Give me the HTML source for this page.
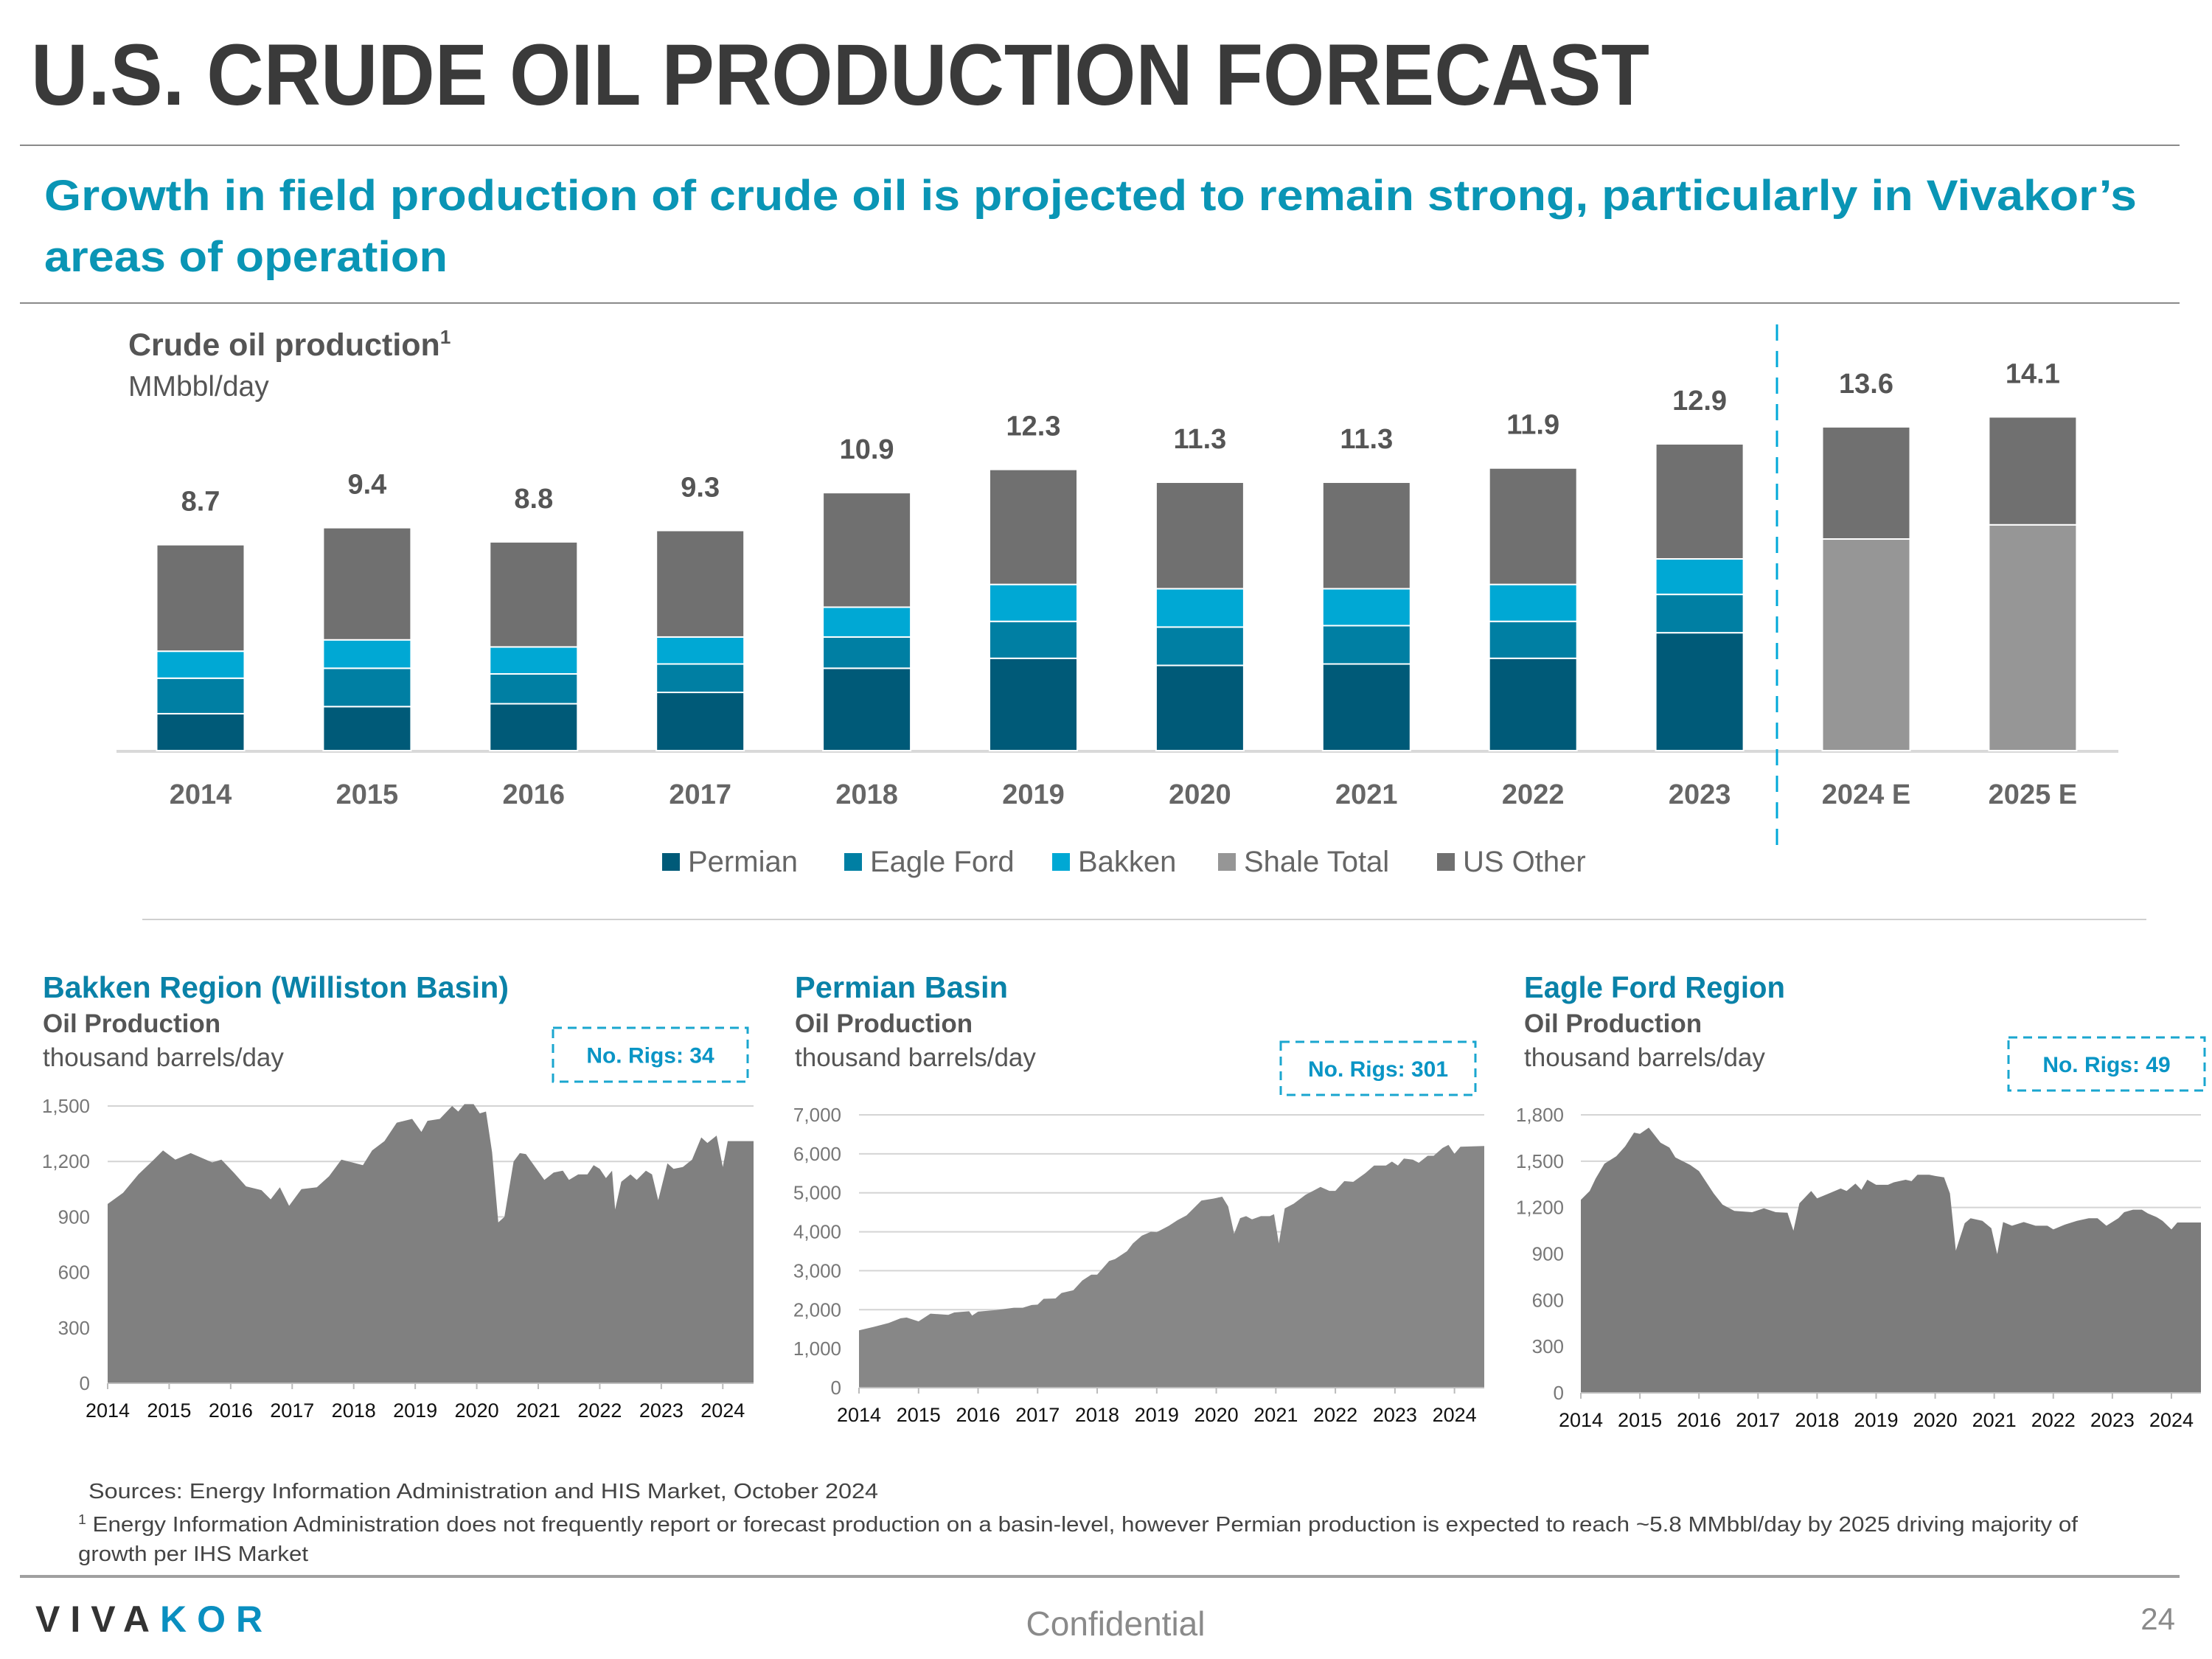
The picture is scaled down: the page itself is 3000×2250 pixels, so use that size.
<!DOCTYPE html>
<html><head><meta charset="utf-8"><style>
html,body{margin:0;padding:0;background:#fff;}
svg{display:block;font-family:"Liberation Sans",sans-serif;}
</style></head><body>
<svg id="s" width="3000" height="2250" viewBox="0 0 3000 2250" xmlns="http://www.w3.org/2000/svg">
<text x="42" y="142" font-size="118" font-weight="bold" fill="#3a3a3a" textLength="2195" lengthAdjust="spacingAndGlyphs">U.S. CRUDE OIL PRODUCTION FORECAST</text>
<line x1="27" y1="197" x2="2956" y2="197" stroke="#8a8a8a" stroke-width="2"/>
<text x="60" y="285" font-size="58" font-weight="bold" fill="#0a95b5" textLength="2838" lengthAdjust="spacingAndGlyphs">Growth in field production of crude oil is projected to remain strong, particularly in Vivakor’s</text>
<text x="60" y="368" font-size="58" font-weight="bold" fill="#0a95b5" textLength="547" lengthAdjust="spacingAndGlyphs">areas of operation</text>
<line x1="27" y1="411" x2="2956" y2="411" stroke="#8a8a8a" stroke-width="2"/>
<text x="174" y="482" font-size="43" font-weight="bold" fill="#555">Crude oil production<tspan font-size="26" dy="-16">1</tspan></text>
<text x="174" y="537" font-size="39" fill="#555">MMbbl/day</text>
<g id="bars"></g>
<line x1="2410" y1="440" x2="2410" y2="1153" stroke="#00a8d8" stroke-width="3" stroke-dasharray="22,14"/>
<g id="legend"></g>
<line x1="193" y1="1247" x2="2911" y2="1247" stroke="#d0d0d0" stroke-width="2"/>
<g id="small"></g>
<text x="120" y="2032" font-size="29" fill="#444" textLength="1071" lengthAdjust="spacingAndGlyphs">Sources: Energy Information Administration and HIS Market, October 2024</text>
<text x="106" y="2077" font-size="29" fill="#444" textLength="2712" lengthAdjust="spacingAndGlyphs"><tspan font-size="18" dy="-10">1</tspan><tspan dy="10"> Energy Information Administration does not frequently report or forecast production on a basin-level, however Permian production is expected to reach ~5.8 MMbbl/day by 2025 driving majority of</tspan></text>
<text x="106" y="2117" font-size="29" fill="#444" textLength="312" lengthAdjust="spacingAndGlyphs">growth per IHS Market</text>
<line x1="27" y1="2138" x2="2956" y2="2138" stroke="#a0a0a0" stroke-width="4"/>
<text x="48" y="2213" font-size="50" font-weight="bold" letter-spacing="14" fill="#333">VIVA<tspan fill="#0a8fc0">KOR</tspan></text>
<text x="1513" y="2218" font-size="46" fill="#8a8a8a" text-anchor="middle">Confidential</text>
<text x="2950" y="2210" font-size="42" fill="#8a8a8a" text-anchor="end">24</text>
</svg>
<script>
// ===== Main bar chart data =====
const barYears = ["2014","2015","2016","2017","2018","2019","2020","2021","2022","2023","2024 E","2025 E"];
const permian   = [1.56,1.86,1.98,2.46,3.48,3.90,3.60,3.66,3.90,4.98,0,0];
const eagleFord = [1.50,1.62,1.26,1.20,1.32,1.56,1.62,1.62,1.56,1.62,0,0];
const bakken    = [1.14,1.20,1.14,1.14,1.26,1.56,1.62,1.56,1.56,1.50,0,0];
const shaleTotal= [0,0,0,0,0,0,0,0,0,0,8.94,9.54];
const usOther   = [4.50,4.74,4.44,4.50,4.84,4.86,4.50,4.50,4.92,4.86,4.74,4.56];
const totalLabels = ["8.7","9.4","8.8","9.3","10.9","12.3","11.3","11.3","11.9","12.9","13.6","14.1"];
const seriesNames = ["Permian","Eagle Ford","Bakken","Shale Total","US Other"];

// ===== Basin chart data (decimal year, thousand bbl/day) =====
const bakkenDates = [2014.0,2014.25,2014.5,2014.75,2014.9,2015.1,2015.35,2015.7,2015.85,2016.05,2016.25,2016.5,2016.65,2016.8,2016.95,2017.15,2017.4,2017.6,2017.8,2018.15,2018.3,2018.5,2018.7,2018.95,2019.1,2019.2,2019.4,2019.6,2019.7,2019.8,2019.95,2020.05,2020.15,2020.25,2020.35,2020.45,2020.6,2020.7,2020.8,2020.95,2021.1,2021.25,2021.4,2021.5,2021.65,2021.8,2021.9,2022.0,2022.1,2022.2,2022.25,2022.35,2022.5,2022.6,2022.75,2022.85,2022.95,2023.1,2023.2,2023.35,2023.5,2023.65,2023.75,2023.9,2024.0,2024.08,2024.5];
const bakkenValues = [970,1030,1130,1210,1260,1210,1245,1195,1210,1140,1065,1045,995,1060,960,1050,1060,1120,1210,1180,1260,1310,1410,1430,1360,1420,1430,1500,1470,1510,1510,1460,1470,1250,870,900,1200,1245,1240,1170,1100,1140,1150,1100,1130,1130,1180,1160,1110,1150,940,1090,1130,1100,1150,1130,990,1190,1160,1170,1210,1330,1300,1340,1170,1310,1310];
const permianDates = [2014.0,2014.25,2014.5,2014.7,2014.8,2015.0,2015.2,2015.5,2015.6,2015.85,2015.9,2016.0,2016.3,2016.6,2016.75,2016.9,2017.0,2017.1,2017.3,2017.4,2017.6,2017.75,2017.9,2018.0,2018.2,2018.3,2018.5,2018.6,2018.75,2018.9,2019.0,2019.2,2019.35,2019.5,2019.75,2019.95,2020.1,2020.2,2020.3,2020.4,2020.5,2020.6,2020.75,2020.9,2020.97,2021.05,2021.15,2021.3,2021.5,2021.75,2021.9,2022.0,2022.15,2022.3,2022.5,2022.65,2022.85,2022.95,2023.05,2023.15,2023.3,2023.4,2023.55,2023.65,2023.8,2023.9,2024.0,2024.1,2024.5];
const permianValues = [1470,1560,1660,1780,1800,1700,1900,1870,1930,1960,1850,1950,1990,2050,2050,2120,2130,2280,2290,2430,2500,2750,2900,2900,3250,3300,3500,3700,3900,4000,3990,4150,4300,4420,4800,4850,4900,4650,3950,4350,4400,4320,4400,4400,4450,3700,4600,4720,4950,5150,5050,5050,5300,5280,5500,5700,5700,5800,5700,5880,5850,5770,5950,5950,6150,6230,6000,6180,6200];
const eagleDates = [2014.0,2014.15,2014.25,2014.4,2014.6,2014.75,2014.9,2015.0,2015.15,2015.35,2015.5,2015.6,2015.85,2016.0,2016.25,2016.4,2016.6,2016.9,2017.1,2017.3,2017.5,2017.6,2017.7,2017.9,2018.0,2018.2,2018.4,2018.5,2018.65,2018.75,2018.85,2019.0,2019.2,2019.3,2019.5,2019.6,2019.7,2019.9,2020.0,2020.15,2020.25,2020.35,2020.5,2020.6,2020.8,2020.95,2021.05,2021.15,2021.3,2021.5,2021.7,2021.9,2022.0,2022.2,2022.4,2022.6,2022.75,2022.9,2023.1,2023.2,2023.35,2023.5,2023.6,2023.75,2023.85,2024.0,2024.1,2024.5];
const eagleValues = [1250,1307,1387,1484,1532,1596,1685,1677,1717,1620,1588,1524,1476,1436,1291,1219,1178,1170,1195,1170,1166,1050,1227,1307,1259,1291,1323,1307,1355,1315,1380,1347,1347,1363,1380,1371,1412,1412,1404,1395,1291,921,1098,1130,1114,1066,897,1106,1082,1106,1082,1082,1058,1090,1114,1130,1130,1082,1130,1170,1186,1186,1162,1138,1114,1058,1103,1103];
const bakkenTicks = [0,300,600,900,1200,1500];
const permianTicks = [0,1000,2000,3000,4000,5000,6000,7000];
const eagleTicks = [0,300,600,900,1200,1500,1800];
const yearTicks = [2014,2015,2016,2017,2018,2019,2020,2021,2022,2023,2024];

const NS = "http://www.w3.org/2000/svg";
function mk(tag, attrs, parent){const e=document.createElementNS(NS,tag);for(const k in attrs)e.setAttribute(k,attrs[k]);parent.appendChild(e);return e;}
function fmt(v){return v.toLocaleString("en-US");}

// ----- main bars -----
const colors = ["#005a78","#007fa3","#00a8d4","#969696","#707070"];
const barG = document.getElementById("bars");
const baseY = 1018, pxPerUnit = 32.1, bx0 = 272, bStep = 225.9, bW = 119;
function yB(v){return baseY - v*pxPerUnit;}
function xB(i){return bx0 + i*bStep;}
const axis = mk("line",{x1:158,y1:baseY+1,x2:2873,y2:baseY+1,stroke:"#d9d9d9","stroke-width":4},barG);


const seriesArr = [permian, eagleFord, bakken, shaleTotal, usOther];
barYears.forEach((yr,i)=>{
  let cum = 0;
  seriesArr.forEach((arr,s)=>{
    const v = arr[i]; if(!v) return;
    const r = mk("rect",{x:xB(i)-bW/2,y:yB(cum+v),width:bW,height:v*pxPerUnit,fill:colors[s],stroke:"#fff","stroke-width":2},barG);
    
    
    cum += v;
  });
  const t = mk("text",{x:xB(i),y:yB(cum)-46,"font-size":38,"font-weight":"bold",fill:"#555","text-anchor":"middle"},barG);
  t.textContent = totalLabels[i];
  
  
  const xl = mk("text",{x:xB(i),y:1090,"font-size":38,"font-weight":"bold",fill:"#666","text-anchor":"middle"},barG);
  xl.textContent = yr;
  
  
});
// legend
const legG = document.getElementById("legend");
const legX = [898,1145,1427,1652,1949];
seriesNames.forEach((n,i)=>{
  const sq = mk("rect",{x:legX[i],y:1157,width:24,height:24,fill:colors[i]},legG);
  
  
  const t = mk("text",{x:legX[i]+35,y:1182,"font-size":40,fill:"#666"},legG);
  t.textContent = n;
  
  
});

// ----- small charts -----
const smallG = document.getElementById("small");
const cfgs = [
 {name:"bakken",title:"Bakken Region (Williston Basin)",tx:58,tw:632,rigs:"No. Rigs: 34",box:[750,1394,264,73],x0:146,x1:1022,y0:1876,yTop:1500,yMax:1500,ticks:bakkenTicks,dates:bakkenDates,vals:bakkenValues,fill:"#808080",lx:122},
 {name:"permian",title:"Permian Basin",tx:1078,tw:289,rigs:"No. Rigs: 301",box:[1737,1413,264,72],x0:1165,x1:2013,y0:1882,yTop:1512,yMax:7000,ticks:permianTicks,dates:permianDates,vals:permianValues,fill:"#878787",lx:1141},
 {name:"eagle-ford",title:"Eagle Ford Region",tx:2067,tw:354,rigs:"No. Rigs: 49",box:[2724,1407,266,72],x0:2144,x1:2985,y0:1889,yTop:1512,yMax:1800,ticks:eagleTicks,dates:eagleDates,vals:eagleValues,fill:"#7c7c7c",lx:2121}
];
cfgs.forEach(c=>{
  const g = mk("g",{},smallG);
  
  
  const tt = mk("text",{x:c.tx,y:1353,"font-size":41,"font-weight":"bold",fill:"#0a82a8",textLength:c.tw,lengthAdjust:"spacingAndGlyphs"},g);
  tt.textContent = c.title;
  
  
  const op = mk("text",{x:c.tx,y:1400,"font-size":35,"font-weight":"bold",fill:"#555"},g);
  op.textContent = "Oil Production";
  
  
  const un = mk("text",{x:c.tx,y:1446,"font-size":35,fill:"#555"},g);
  un.textContent = "thousand barrels/day";
  
  
  const bx = mk("rect",{x:c.box[0],y:c.box[1],width:c.box[2],height:c.box[3],fill:"none",stroke:"#1aa6cf","stroke-width":3,"stroke-dasharray":"12,8"},g);
  
  
  const bt = mk("text",{x:c.box[0]+c.box[2]/2,y:c.box[1]+c.box[3]/2+11,"font-size":30,"font-weight":"bold",fill:"#0a95c5","text-anchor":"middle"},g);
  bt.textContent = c.rigs;
  
  
  const pxYear = (c.x1-c.x0)/10.5;
  const xs = d => c.x0 + (d-2014)*pxYear;
  const ys = v => c.y0 - v/c.yMax*(c.y0-c.yTop);
  c.ticks.forEach(tk=>{
    if(tk>0){
      const gl = mk("line",{x1:c.x0,y1:ys(tk),x2:c.x1,y2:ys(tk),stroke:"#d4d4d4","stroke-width":2},g);
      
      
    }
    const yl = mk("text",{x:c.lx,y:ys(tk)+9,"font-size":26,fill:"#777","text-anchor":"end"},g);
    yl.textContent = fmt(tk);
    
    
  });
  let d = "M" + xs(c.dates[0]) + "," + c.y0;
  c.dates.forEach((dt,i)=>{ d += " L" + xs(dt).toFixed(1) + "," + ys(c.vals[i]).toFixed(1); });
  d += " L" + xs(c.dates[c.dates.length-1]) + "," + c.y0 + " Z";
  const ar = mk("path",{d:d,fill:c.fill},g);
  
  
  const ax = mk("line",{x1:c.x0,y1:c.y0,x2:c.x1,y2:c.y0,stroke:"#bbb","stroke-width":2},g);
  
  
  yearTicks.forEach(yr=>{
    const tm = mk("line",{x1:xs(yr),y1:c.y0,x2:xs(yr),y2:c.y0+8,stroke:"#bbb","stroke-width":2},g);
    
    
    const xl = mk("text",{x:xs(yr),y:c.y0+46,"font-size":27,fill:"#111","text-anchor":"middle"},g);
    xl.textContent = yr;
    
    
  });
});
</script>
</body></html>
